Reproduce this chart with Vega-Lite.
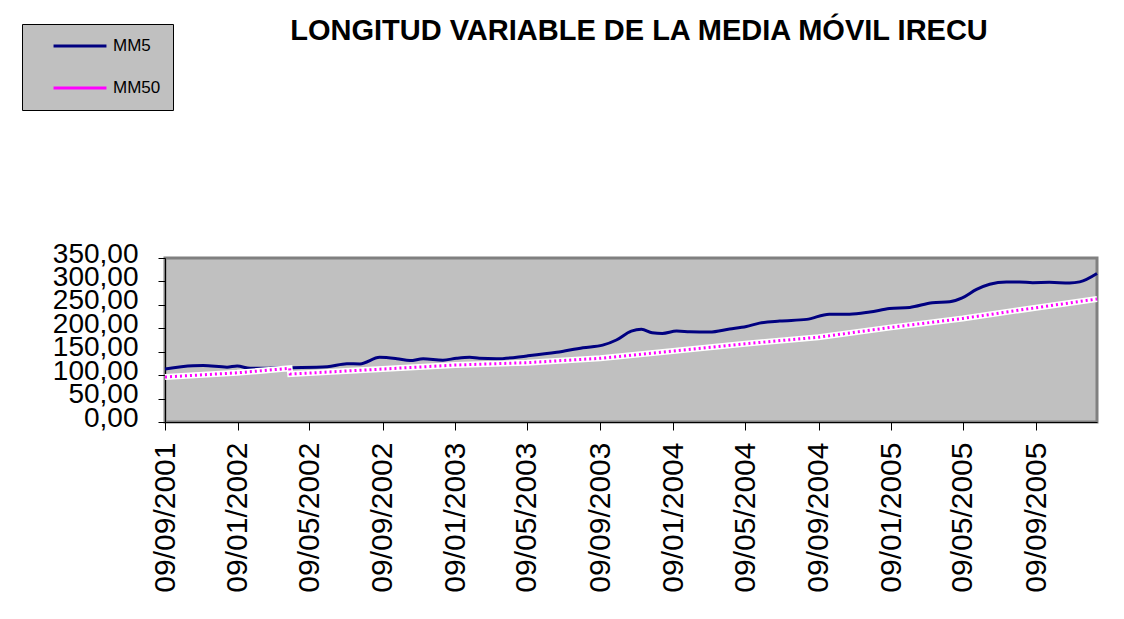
{
  "$schema": "https://vega.github.io/schema/vega-lite/v6.json",
  "autosize": "none",
  "width": 932,
  "height": 164,
  "padding": {"left": 165, "top": 258, "right": 27, "bottom": 197},
  "background": "#ffffff",
  "config": {
    "locale": {"number": {"decimal": ",", "thousands": ".", "grouping": [3], "currency": ["", " €"]}},
    "font": "Liberation Sans",
    "view": {"fill": "#c0c0c0", "stroke": "#808080", "strokeWidth": 3}
  },
  "title": {
    "text": "LONGITUD VARIABLE DE LA MEDIA MÓVIL IRECU",
    "font": "Liberation Sans",
    "fontSize": 29,
    "fontWeight": "bold",
    "color": "#000000",
    "anchor": "middle",
    "frame": "group",
    "baseline": "alphabetic",
    "offset": -45,
    "dx": 8
  },
  "data": {"values": [
    {"date": "2001/09/09", "series": "MM5", "value": 113},
    {"date": "2001/10/26", "series": "MM5", "value": 120},
    {"date": "2001/11/12", "series": "MM5", "value": 120.5},
    {"date": "2001/12/22", "series": "MM5", "value": 117},
    {"date": "2002/01/08", "series": "MM5", "value": 119.5},
    {"date": "2002/01/30", "series": "MM5", "value": 114.5},
    {"date": "2002/03/04", "series": "MM5", "value": 115},
    {"date": "2002/04/07", "series": "MM5", "value": 116},
    {"date": "2002/06/08", "series": "MM5", "value": 118},
    {"date": "2002/07/11", "series": "MM5", "value": 124.5},
    {"date": "2002/08/02", "series": "MM5", "value": 124},
    {"date": "2002/09/04", "series": "MM5", "value": 138},
    {"date": "2002/10/03", "series": "MM5", "value": 135},
    {"date": "2002/10/25", "series": "MM5", "value": 131},
    {"date": "2002/11/16", "series": "MM5", "value": 135},
    {"date": "2002/12/19", "series": "MM5", "value": 132},
    {"date": "2003/01/11", "series": "MM5", "value": 136},
    {"date": "2003/02/02", "series": "MM5", "value": 138},
    {"date": "2003/02/18", "series": "MM5", "value": 136},
    {"date": "2003/03/19", "series": "MM5", "value": 135},
    {"date": "2003/05/09", "series": "MM5", "value": 141},
    {"date": "2003/06/28", "series": "MM5", "value": 148.7},
    {"date": "2003/08/11", "series": "MM5", "value": 158.6},
    {"date": "2003/09/13", "series": "MM5", "value": 164},
    {"date": "2003/10/06", "series": "MM5", "value": 175},
    {"date": "2003/10/31", "series": "MM5", "value": 194},
    {"date": "2003/11/17", "series": "MM5", "value": 198},
    {"date": "2003/12/05", "series": "MM5", "value": 190.5},
    {"date": "2003/12/22", "series": "MM5", "value": 189},
    {"date": "2004/01/15", "series": "MM5", "value": 194},
    {"date": "2004/02/06", "series": "MM5", "value": 192.7},
    {"date": "2004/03/10", "series": "MM5", "value": 192},
    {"date": "2004/04/13", "series": "MM5", "value": 198.5},
    {"date": "2004/05/11", "series": "MM5", "value": 204},
    {"date": "2004/06/02", "series": "MM5", "value": 211},
    {"date": "2004/07/06", "series": "MM5", "value": 215.5},
    {"date": "2004/08/20", "series": "MM5", "value": 219},
    {"date": "2004/09/27", "series": "MM5", "value": 230},
    {"date": "2004/10/31", "series": "MM5", "value": 230},
    {"date": "2004/12/04", "series": "MM5", "value": 234.7},
    {"date": "2005/01/06", "series": "MM5", "value": 242},
    {"date": "2005/02/09", "series": "MM5", "value": 244.5},
    {"date": "2005/03/19", "series": "MM5", "value": 254.6},
    {"date": "2005/04/17", "series": "MM5", "value": 256.8},
    {"date": "2005/05/08", "series": "MM5", "value": 265},
    {"date": "2005/06/01", "series": "MM5", "value": 283},
    {"date": "2005/06/23", "series": "MM5", "value": 294},
    {"date": "2005/07/21", "series": "MM5", "value": 299},
    {"date": "2005/08/12", "series": "MM5", "value": 299},
    {"date": "2005/09/03", "series": "MM5", "value": 297.3},
    {"date": "2005/10/01", "series": "MM5", "value": 298},
    {"date": "2005/11/04", "series": "MM5", "value": 296.6},
    {"date": "2005/11/21", "series": "MM5", "value": 299},
    {"date": "2005/12/20", "series": "MM5", "value": 317},
    {"date": "2001/09/09", "series": "MM50", "value": 96},
    {"date": "2002/01/08", "series": "MM50", "value": 105},
    {"date": "2002/04/06", "series": "MM50", "value": 114.5},
    {"date": "2002/04/07", "series": "MM50", "value": 102.4},
    {"date": "2002/05/09", "series": "MM50", "value": 104.5},
    {"date": "2002/09/09", "series": "MM50", "value": 113},
    {"date": "2003/01/09", "series": "MM50", "value": 121.6},
    {"date": "2003/05/09", "series": "MM50", "value": 126.6},
    {"date": "2003/09/09", "series": "MM50", "value": 136},
    {"date": "2004/01/09", "series": "MM50", "value": 151.5},
    {"date": "2004/05/09", "series": "MM50", "value": 167},
    {"date": "2004/09/09", "series": "MM50", "value": 181},
    {"date": "2005/01/09", "series": "MM50", "value": 202},
    {"date": "2005/05/09", "series": "MM50", "value": 221},
    {"date": "2005/09/09", "series": "MM50", "value": 244},
    {"date": "2005/12/20", "series": "MM50", "value": 262.5}
  ]},
  "encoding": {
    "x": {
      "field": "date",
      "type": "temporal",
      "scale": {"domain": [{"year": 2001, "month": 9, "date": 9}, {"year": 2005, "month": 12, "date": 20}]},
      "axis": {
        "title": null,
        "grid": false,
        "values": [
          {"year": 2001, "month": 9, "date": 9},
          {"year": 2002, "month": 1, "date": 9},
          {"year": 2002, "month": 5, "date": 9},
          {"year": 2002, "month": 9, "date": 9},
          {"year": 2003, "month": 1, "date": 9},
          {"year": 2003, "month": 5, "date": 9},
          {"year": 2003, "month": 9, "date": 9},
          {"year": 2004, "month": 1, "date": 9},
          {"year": 2004, "month": 5, "date": 9},
          {"year": 2004, "month": 9, "date": 9},
          {"year": 2005, "month": 1, "date": 9},
          {"year": 2005, "month": 5, "date": 9},
          {"year": 2005, "month": 9, "date": 9}
        ],
        "format": "%d/%m/%Y",
        "labelAngle": 270,
        "labelAlign": "right",
        "labelBaseline": "middle",
        "labelFontSize": 30,
        "labelColor": "#000000",
        "labelPadding": 12,
        "labelOverlap": false,
        "labelFlush": false,
        "tickSize": 8,
        "tickColor": "#000000",
        "domainColor": "#000000"
      }
    },
    "y": {
      "field": "value",
      "type": "quantitative",
      "scale": {"domain": [0, 350], "nice": false},
      "axis": {
        "title": null,
        "grid": false,
        "values": [0, 50, 100, 150, 200, 250, 300, 350],
        "format": ".2f",
        "labelFontSize": 28,
        "labelColor": "#000000",
        "labelPadding": 20,
        "labelOverlap": false,
        "labelFlush": false,
        "labelBaseline": "middle",
        "labelOffset": -4,
        "tickSize": 7,
        "tickColor": "#000000",
        "domainColor": "#000000"
      }
    }
  },
  "layer": [
    {
      "transform": [{"filter": "datum.series === 'MM5'"}],
      "mark": {"type": "line", "strokeWidth": 3, "interpolate": "monotone"},
      "encoding": {
        "color": {
          "field": "series",
          "type": "nominal",
          "scale": {"domain": ["MM5", "MM50"], "range": ["#000080", "#ff00ff"]},
          "legend": {
            "title": null,
            "orient": "none",
            "legendX": -143,
            "legendY": -234,
            "fillColor": "#c0c0c0",
            "strokeColor": "#000000",
            "padding": 12,
            "clipHeight": 20,
            "symbolType": "stroke",
            "symbolStrokeWidth": 3,
            "symbolSize": 2800,
            "symbolOffset": 18,
            "labelFontSize": 17,
            "labelColor": "#000000",
            "labelOffset": 5,
            "rowPadding": 22
          }
        }
      }
    },
    {
      "transform": [{"filter": "datum.series === 'MM50'"}],
      "mark": {"type": "line", "strokeWidth": 6, "color": "#ffffff"},
      "encoding": {}
    },
    {
      "transform": [{"filter": "datum.series === 'MM50'"}],
      "mark": {"type": "line", "strokeWidth": 3, "strokeDash": [2, 3]},
      "encoding": {
        "color": {"field": "series", "type": "nominal"}
      }
    }
  ]
}
